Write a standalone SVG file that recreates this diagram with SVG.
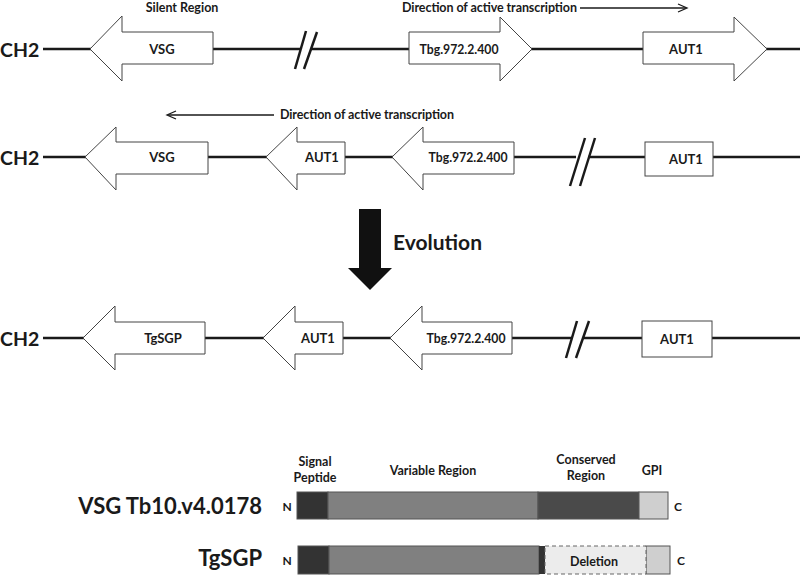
<svg xmlns="http://www.w3.org/2000/svg" width="800" height="576" viewBox="0 0 800 576">
<style>
text{font-family:Lato,"Open Sans","Liberation Sans",sans-serif;font-weight:bold;fill:#1a1a1a}
.gene{fill:#fff;stroke:#444;stroke-width:1}
.chr{stroke:#1a1a1a;stroke-width:2.5;fill:none}
.slash{stroke:#1a1a1a;stroke-width:2.5;fill:none}
.dir{stroke:#1a1a1a;stroke-width:1.3;fill:none}
.ch{font-size:19.5px}
.lbl{font-size:13px;text-anchor:middle}
.sm{font-size:12.5px}
.cap{font-size:12.5px;text-anchor:middle}
.big{font-size:22px;text-anchor:end}
.nc{font-size:12px;text-anchor:middle}
.bar{stroke:#555;stroke-width:1}
</style>
<rect width="800" height="576" fill="#fff"/>
<g id="connectors">
  <line class="chr" x1="43" y1="49" x2="300" y2="49"/>
  <line class="chr" x1="311" y1="49" x2="800" y2="49"/>
  <polyline class="slash" points="295,69 306,31"/>
  <polyline class="slash" points="304,69 317,32"/>
  <line class="chr" x1="43" y1="157" x2="576" y2="157"/>
  <line class="chr" x1="588" y1="157" x2="800" y2="157"/>
  <polyline class="slash" points="570,186 585,138"/>
  <polyline class="slash" points="580,186 595,138"/>
  <line class="chr" x1="43" y1="338" x2="572" y2="338"/>
  <line class="chr" x1="583" y1="338" x2="800" y2="338"/>
  <polyline class="slash" points="566,358 577,321"/>
  <polyline class="slash" points="576,358 589,321"/>
  <line class="dir" x1="580" y1="8" x2="686" y2="8"/>
  <polyline class="dir" points="678,4 687,8 678,12" stroke-width="1.8"/>
  <line class="dir" x1="168" y1="115" x2="274" y2="115"/>
  <polyline class="dir" points="176,111 167,115 176,119" stroke-width="1.8"/>
</g>
<g id="labels">
  <text class="ch" x="0" y="57">CH2</text>
  <text class="ch" x="0" y="165">CH2</text>
  <text class="ch" x="0" y="346">CH2</text>
  <text class="sm" x="182" y="12" text-anchor="middle">Silent Region</text>
  <text class="sm" x="402" y="12" textLength="175">Direction of active transcription</text>
  <text class="sm" x="280" y="119" textLength="174">Direction of active transcription</text>
</g>
<g id="r1-vsg"><polygon class="gene" points="90,49 122,16 122,32 213,32 213,64 122,64 122,81"/><text class="lbl" x="162" y="54">VSG</text></g>
<g id="r1-tbg"><polygon class="gene" points="409,32 500,32 500,17 532,49 500,81 500,64 409,64"/><text class="lbl" x="459" y="54" textLength="79" lengthAdjust="spacingAndGlyphs">Tbg.972.2.400</text></g>
<g id="r1-aut1"><polygon class="gene" points="643,32 734,32 734,17 767,49 734,81 734,64 643,64"/><text class="lbl" x="686" y="54">AUT1</text></g>
<g id="r2-vsg"><polygon class="gene" points="85,157 116,127 116,142 208,142 208,174 116,174 116,190"/><text class="lbl" x="162" y="162">VSG</text></g>
<g id="r2-aut1"><polygon class="gene" points="266,157 297,127 297,142 345,142 345,174 297,174 297,190"/><text class="lbl" x="322" y="162">AUT1</text></g>
<g id="r2-tbg"><polygon class="gene" points="392,157 423,127 423,142 514,142 514,174 423,174 423,190"/><text class="lbl" x="468" y="162" textLength="79" lengthAdjust="spacingAndGlyphs">Tbg.972.2.400</text></g>
<g id="r2-aut1b"><rect class="gene" x="645" y="142" width="68" height="34"/><text class="lbl" x="686" y="164">AUT1</text></g>
<g id="evolution"><polygon points="359,209 381,209 381,268 392,268 370,290 348,268 359,268" fill="#111"/><text x="393" y="250" font-size="21">Evolution</text></g>
<g id="r3-tgsgp"><polygon class="gene" points="83,338 115,306 115,322 205,322 205,354 115,354 115,370"/><text class="lbl" x="163" y="343">TgSGP</text></g>
<g id="r3-aut1"><polygon class="gene" points="263,338 295,306 295,322 343,322 343,354 295,354 295,370"/><text class="lbl" x="318" y="343">AUT1</text></g>
<g id="r3-tbg"><polygon class="gene" points="390,338 422,306 422,322 512,322 512,354 422,354 422,370"/><text class="lbl" x="466" y="343" textLength="79" lengthAdjust="spacingAndGlyphs">Tbg.972.2.400</text></g>
<g id="r3-aut1b"><rect class="gene" x="642" y="321" width="70" height="36"/><text class="lbl" x="677" y="344">AUT1</text></g>
<g id="vsg-protein">
  <text class="big" x="262" y="514">VSG Tb10.v4.0178</text>
  <text class="nc" x="287" y="511">N</text>
  <text class="nc" x="678" y="511">C</text>
  <text class="cap" x="315" y="466">Signal</text>
  <text class="cap" x="315" y="482">Peptide</text>
  <text class="cap" x="433" y="475">Variable Region</text>
  <text class="cap" x="586" y="464">Conserved</text>
  <text class="cap" x="586" y="480">Region</text>
  <text class="cap" x="652" y="475">GPI</text>
  <rect class="bar" x="297" y="492" width="31" height="27" fill="#333"/>
  <rect class="bar" x="328" y="492" width="210" height="27" fill="#808080"/>
  <rect class="bar" x="538" y="492" width="101" height="27" fill="#4a4a4a"/>
  <rect class="bar" x="639" y="492" width="29" height="27" fill="#cfcfcf"/>
</g>
<g id="tgsgp-protein">
  <text class="big" x="262" y="566">TgSGP</text>
  <text class="nc" x="287" y="565">N</text>
  <text class="nc" x="681" y="565">C</text>
  <rect class="bar" x="298" y="546" width="31" height="28" fill="#333"/>
  <rect class="bar" x="329" y="546" width="210" height="28" fill="#808080"/>
  <rect x="539" y="546" width="6" height="28" fill="#333"/>
  <rect x="646" y="546" width="24" height="28" fill="#cfcfcf" stroke="#555"/>
  <rect x="545" y="546" width="101" height="28" fill="#ececec" stroke="#666" stroke-dasharray="4,3"/>
  <text class="cap" x="594" y="566">Deletion</text>
</g>
</svg>
